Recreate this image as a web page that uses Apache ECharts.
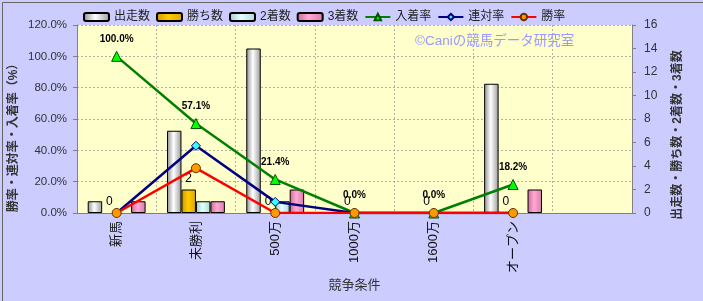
<!DOCTYPE html>
<html><head><meta charset="utf-8">
<script src="https://cdn.jsdelivr.net/npm/echarts@6/dist/echarts.min.js"></script>
<style>html,body{margin:0;padding:0;background:#ccccff;}#c{width:703px;height:301px;}</style>
</head><body><div id="c"></div>
<script>
const categories = ['新馬','未勝利','500万','1000万','1600万','オープン',''];
const starts  = [1, 7, 14, 0, 0, 11, null];
const wins    = [0, 2, 0, 0, 0, 0, null];
const seconds = [0, 1, 1, 0, 0, 0, null];
const thirds  = [1, 1, 2, 0, 0, 2, null];
const placeRate  = [100.0, 57.1, 21.4, 0.0, 0.0, 18.2, null];
const rentaiRate = [0.0, 42.9, 7.1, 0.0, 0.0, 0.0, null];
const winRate    = [0.0, 28.6, 0.0, 0.0, 0.0, 0.0, null];
const leftTicks = [0, 20, 40, 60, 80, 100, 120];
const rightTicks = [0, 2, 4, 6, 8, 10, 12, 14, 16];

const FF = '"Liberation Sans", "Noto Sans CJK JP", sans-serif';
const chart = echarts.init(document.getElementById('c'));
function grad(a, b, c) {
  return new echarts.graphic.LinearGradient(0, 0, 1, 0, [
    {offset: 0, color: a}, {offset: 0.45, color: b}, {offset: 1, color: c}]);
}
function barData(arr) {
  return arr.map(v => v === 0 ? {value: v, itemStyle: {borderWidth: 0}} : v);
}
const barBase = {type: 'bar', yAxisIndex: 1, barGap: '0%', barCategoryGap: '27%'};
chart.setOption({
  backgroundColor: '#ccccff',
  textStyle: {fontFamily: FF},
  legend: {
    left: 83, top: 11, padding: 0, itemWidth: 25, itemHeight: 8, itemGap: 6,
    textStyle: {fontSize: 12, color: '#222', fontFamily: FF},
    data: ['出走数','勝ち数','2着数','3着数','入着率','連対率','勝率']
  },
  grid: {left: 77, right: 71, top: 25, bottom: 88, show: true, backgroundColor: '#ffffcc', borderWidth: 0,
    containLabel: false, outerBoundsMode: 'none'},
  xAxis: {
    type: 'category', data: categories, boundaryGap: true,
    axisLine: {lineStyle: {color: '#808080'}},
    axisTick: {show: false},
    axisLabel: {rotate: 90, margin: 8, fontSize: 13, color: '#111', interval: 0, fontFamily: FF},
    splitLine: {show: true, interval: 0, lineStyle: {color: '#b0b0a0', type: [2, 2]}},
    name: '競争条件', nameLocation: 'middle', nameGap: 66, nameMoveOverlap: false,
    nameTextStyle: {fontSize: 13, color: '#333', fontFamily: FF}
  },
  yAxis: [{
    type: 'value', min: leftTicks[0], max: leftTicks[leftTicks.length - 1], interval: 20,
    axisLine: {show: true, lineStyle: {color: '#808080'}},
    axisTick: {show: true, length: 4, lineStyle: {color: '#808080'}},
    axisLabel: {formatter: v => v.toFixed(1) + '%', fontSize: 11.5, color: '#333', margin: 10},
    splitLine: {show: true, lineStyle: {color: '#b0b0a0', type: [2, 2]}},
    name: '勝率・連対率・入着率（%）', nameLocation: 'middle', nameGap: 57, nameRotate: 90, nameMoveOverlap: false,
    nameTextStyle: {fontSize: 12, fontWeight: 'bold', color: '#333', padding: [0, 32, 0, 0]}
  }, {
    type: 'value', min: rightTicks[0], max: rightTicks[rightTicks.length - 1], interval: 2, position: 'right',
    axisLine: {show: true, lineStyle: {color: '#808080'}},
    axisTick: {show: true, length: 4, lineStyle: {color: '#808080'}},
    axisLabel: {fontSize: 12, color: '#333', margin: 12},
    splitLine: {show: false},
    name: '出走数・勝ち数・2着数・3着数', nameLocation: 'middle', nameGap: 40, nameRotate: 90, nameMoveOverlap: false,
    nameTextStyle: {fontSize: 12, fontWeight: 'bold', color: '#333', padding: [0, 32, 0, 0]}
  }],
  graphic: [{
    type: 'text', left: 415, top: 35, z: 5,
    style: {text: '©Caniの競馬データ研究室', fill: '#9999ff', fontSize: 13.5, fontFamily: FF}
  }, {
    type: 'rect', left: 0, top: 0, z: 10, silent: true,
    shape: {width: 702, height: 300},
    style: {fill: 'none', stroke: '#666', lineWidth: 1}
  }],
  series: [
    Object.assign({}, barBase, {name: '出走数', data: barData(starts),
      itemStyle: {color: grad('#8c8c8c', '#ffffff', '#9a9a9a'), borderColor: '#000', borderWidth: 1}}),
    Object.assign({}, barBase, {name: '勝ち数', data: barData(wins),
      itemStyle: {color: grad('#c89800', '#ffcc00', '#d9a800'), borderColor: '#000', borderWidth: 1},
      label: {show: true, position: 'top', distance: 5, fontSize: 12, color: '#000', formatter: '{c}'}}),
    Object.assign({}, barBase, {name: '2着数', data: barData(seconds),
      itemStyle: {color: grad('#99cccc', '#e6ffff', '#a8dada'), borderColor: '#000', borderWidth: 1}}),
    Object.assign({}, barBase, {name: '3着数', data: barData(thirds),
      itemStyle: {color: grad('#cc6699', '#ffaad4', '#d97aa8'), borderColor: '#000', borderWidth: 1}}),
    {name: '入着率', type: 'line', yAxisIndex: 0, data: placeRate,
      lineStyle: {color: '#008000', width: 2.5}, symbol: 'triangle', symbolSize: 10,
      itemStyle: {color: '#00ff00', borderColor: '#005000', borderWidth: 1},
      label: {show: true, position: 'top', distance: 7, fontSize: 10, fontWeight: 'bold', color: '#000',
        formatter: p => p.value.toFixed(1) + '%'}},
    {name: '連対率', type: 'line', yAxisIndex: 0, data: rentaiRate,
      lineStyle: {color: '#000080', width: 2.5}, symbol: 'diamond', symbolSize: 9,
      itemStyle: {color: '#33ffff', borderColor: '#000080', borderWidth: 1}},
    {name: '勝率', type: 'line', yAxisIndex: 0, data: winRate,
      lineStyle: {color: '#ff0000', width: 2.5}, symbol: 'circle', symbolSize: 9,
      itemStyle: {color: '#ff9900', borderColor: '#663300', borderWidth: 1}}
  ]
});
</script></body></html>
